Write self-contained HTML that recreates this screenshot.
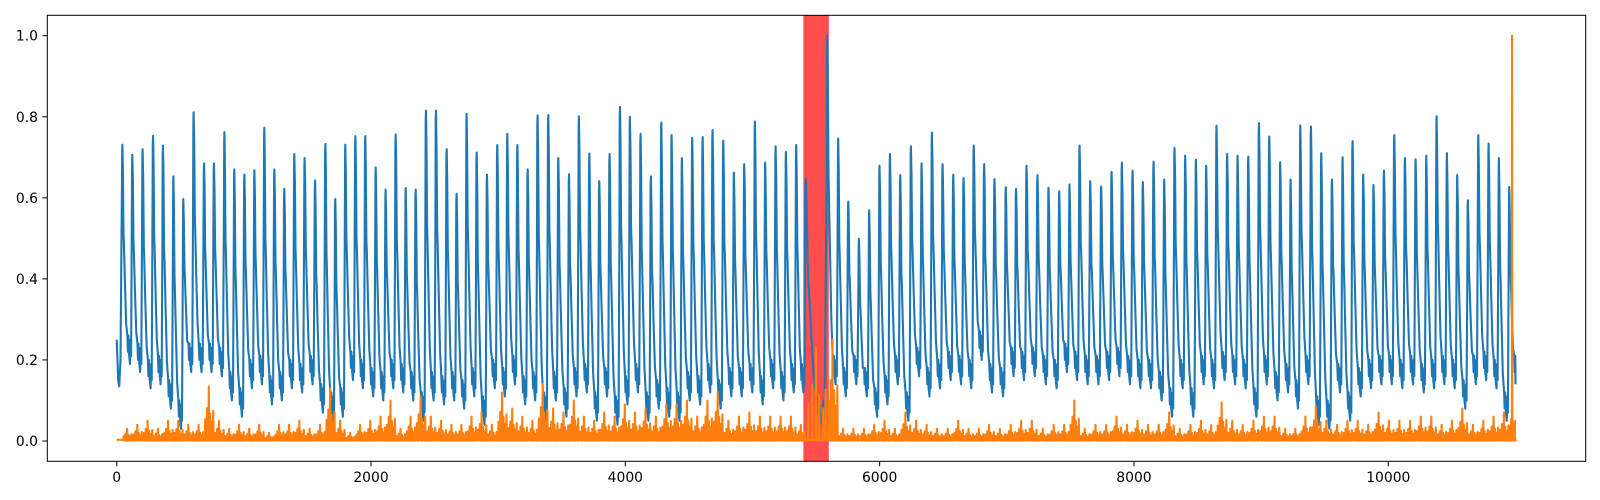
<!DOCTYPE html>
<html><head><meta charset="utf-8"><style>
html,body{margin:0;padding:0;background:#fff;}
svg{display:block;font-family:"DejaVu Sans","Liberation Sans",sans-serif;}
</style></head><body>
<svg id="chart" width="1600" height="500" viewBox="0 0 1600 500" xmlns="http://www.w3.org/2000/svg">
<rect x="47.3" y="15.3" width="1538.4" height="446" fill="#fff"/>
<defs><clipPath id="clip"><rect x="47.3" y="15.3" width="1538.4" height="446"/></clipPath></defs>
<g id="span" clip-path="url(#clip)"></g>
<g id="lines" clip-path="url(#clip)"></g>
<g id="axes"></g>
</svg>
<script>
// ---- data ----
const xTicks = [0, 2000, 4000, 6000, 8000, 10000];
const yTicks = [0.0, 0.2, 0.4, 0.6, 0.8, 1.0];
const highlightSpan = [5400, 5600];
const blueStart = [0, 0.25];
const blueEnd = [11000, 0.14];
const peakX = [45,123,204,286,364,446,524,605,687,765,847,925,1004,1083,1161,1240,1318,1397,1478,1560,1641,1719,1798,1877,1955,2037,2115,2194,2273,2351,2432,2511,2595,2673,2752,2831,2912,2993,3072,3151,3232,3310,
3394,3473,3557,3635,3717,3795,3876,3958,4036,4120,4201,4283,4364,4445,4526,4608,4686,4770,4854,4935,5019,5100,5182,5263,5344,5418,5588,5674,5753,5837,5918,5999,6081,6162,6246,6330,6411,6495,6579,6660,
6740,6822,6903,6992,7073,7155,7241,7328,7412,7493,7572,7656,7742,7824,7905,7989,8070,8154,8238,8319,8403,8487,8568,8649,8733,8815,8899,8983,9064,9150,9232,9308,9392,9473,9557,9641,9719,9803,9884,9966,10047,10131,10215,10299,10380,10461,10542,10626,10708,10789,10870,10951];
const peakY = [0.731,0.706,0.72,0.753,0.729,0.653,0.597,0.811,0.685,0.685,0.762,0.67,0.657,0.668,0.773,0.67,0.622,0.708,0.698,0.643,0.733,0.597,0.731,0.752,0.752,0.675,0.62,0.756,0.624,0.62,0.815,0.815,0.72,0.61,0.807,0.712,0.657,0.73,0.758,0.73,0.67,0.803,
0.804,0.698,0.658,0.801,0.709,0.641,0.708,0.824,0.8,0.758,0.653,0.786,0.755,0.698,0.748,0.75,0.767,0.741,0.662,0.683,0.788,0.687,0.727,0.713,0.73,0.647,1.0,0.746,0.591,0.499,0.569,0.679,0.708,0.656,0.727,0.685,0.761,0.683,0.657,0.649,
0.729,0.683,0.646,0.626,0.622,0.679,0.656,0.625,0.616,0.633,0.729,0.641,0.628,0.664,0.687,0.667,0.639,0.689,0.645,0.723,0.704,0.694,0.679,0.778,0.708,0.704,0.702,0.784,0.751,0.688,0.645,0.779,0.776,0.71,0.645,0.7,0.74,0.657,0.632,0.667,0.755,0.698,0.695,0.704,0.801,0.71,0.656,0.594,0.755,0.734,0.698,0.627];
const troughY = [0.19,0.17,0.13,0.14,0.08,0.03,0.17,0.17,0.17,0.16,0.10,0.06,0.13,0.14,0.09,0.10,0.13,0.12,0.14,0.07,0.05,0.06,0.15,0.13,0.11,0.10,0.13,0.12,0.10,0.05,0.10,0.09,0.10,0.08,0.11,0.04,0.13,0.11,0.14,0.09,0.10,
0.05,
0.10,0.06,0.11,0.12,0.05,0.11,0.04,0.09,0.12,0.05,0.08,0.06,0.05,0.10,0.09,0.12,0.08,0.11,0.11,0.12,0.09,0.13,0.10,0.12,0.12,0.04,0.14,0.11,0.14,0.11,0.06,0.09,0.14,0.05,0.16,0.11,0.13,0.15,0.14,
0.13,
0.2,0.12,0.11,0.16,0.15,0.16,0.14,0.13,0.17,0.15,0.14,0.14,0.15,0.16,0.14,0.13,0.13,0.10,0.06,0.13,0.06,0.14,0.13,0.15,0.14,0.13,0.06,0.14,0.10,0.12,0.08,0.14,0.04,0.03,0.12,0.05,0.11,0.13,0.14,0.14,0.13,0.14,0.12,0.13,0.14,0.13,0.08,0.14,0.15,0.13,0.05];
const orangeY = [0.03,0.04,0.05,0.03,0.05,0.05,0.04,0.04,0.135,0.05,0.03,0.04,0.03,0.04,0.02,0.04,0.04,0.05,0.03,0.04,0.13,0.05,0.02,0.04,0.05,0.06,0.10,0.03,0.06,0.11,0.06,0.05,0.04,0.04,0.06,0.07,0.04,0.12,0.08,0.06,0.05,0.14,
0.08,0.07,0.10,0.06,0.05,0.07,0.06,0.09,0.07,0.08,0.06,0.09,0.09,0.10,0.06,0.10,0.12,0.05,0.06,0.07,0.06,0.06,0.06,0.06,0.04,0.23,0.25,0.03,0.03,0.03,0.04,0.05,0.03,0.07,0.05,0.04,0.03,0.03,0.05,0.03,
0.03,0.04,0.03,0.04,0.05,0.05,0.03,0.04,0.04,0.10,0.03,0.04,0.04,0.06,0.04,0.05,0.04,0.04,0.07,0.03,0.04,0.05,0.04,0.095,0.05,0.04,0.05,0.06,0.06,0.03,0.03,0.06,0.085,0.05,0.04,0.05,0.05,0.04,0.07,0.05,0.05,0.05,0.06,0.06,0.04,0.05,0.08,0.04,0.05,0.06,0.07,0.09];
const orangeBigSpike = [10973, 1.0];

// ---- scales ----
const X0 = 116.7, XK = (1388.3 - 116.7) / 10000;
const Y0 = 441, YK = 405.3;
const sx = v => X0 + v * XK;
const sy = v => Y0 - v * YK;
const NS = "http://www.w3.org/2000/svg";
function mk(tag, attrs, parent) {
  const e = document.createElementNS(NS, tag);
  for (const k in attrs) e.setAttribute(k, attrs[k]);
  parent.appendChild(e);
  return e;
}

// ---- highlight span ----
const spanG = document.getElementById('span');
const span = mk('rect', {x: sx(highlightSpan[0]), y: 15.3, width: sx(highlightSpan[1]) - sx(highlightSpan[0]), height: 446, fill: '#ff0000', 'fill-opacity': 0.7}, spanG);



// ---- blue series ----
const bp = [];
bp.push([blueStart[0], blueStart[1]], [12, 0.15], [20, 0.135], [30, 0.2]);
for (let i = 0; i < peakX.length; i++) {
  const x = peakX[i], h = peakY[i];
  const nx = i + 1 < peakX.length ? peakX[i + 1] : blueEnd[0] + 30;
  const lo = i < troughY.length ? troughY[i] : blueEnd[1];
  const g = nx - x, d = h - lo;
  bp.push([x - 2, h * 0.97]);
  bp.push([x, h]);
  bp.push([x + 0.05 * g, lo + d * 0.88]);
  bp.push([x + 0.11 * g, lo + d * 0.6]);
  bp.push([x + 0.15 * g, lo + d * 0.55]);
  bp.push([x + 0.25 * g, lo + d * 0.38]);
  bp.push([x + 0.38 * g, lo + d * 0.18]);
  bp.push([x + 0.5 * g, lo + 0.07]);
  bp.push([x + 0.55 * g, lo + 0.03]);
  bp.push([x + 0.6 * g, lo + 0.07]);
  if (i + 1 < peakX.length) {
    bp.push([x + 0.68 * g, lo + 0.02]);
    bp.push([x + 0.76 * g, lo]);
    bp.push([x + 0.82 * g, lo + 0.06]);
    bp.push([x + 0.87 * g, lo + 0.02]);
    bp.push([nx - 5, lo + (peakY[i + 1] - lo) * 0.6]);
  } else {
    bp.push([blueEnd[0], blueEnd[1]]);
  }
}
const linesG = document.getElementById('lines');
const blue = mk('polyline', {points: bp.map(p => sx(p[0]).toFixed(1) + ',' + sy(p[1]).toFixed(1)).join(' '), fill: 'none', stroke: '#1f77b4', 'stroke-width': 2.1, 'stroke-linejoin': 'round'}, linesG);



// ---- orange series ----
const op = [[0, 0.003]];
const fr = [[0.12, 0.4], [0.3, 0.6], [0.48, 1.0], [0.62, 0.5], [0.8, 0.35], [0.92, 0.55]];
for (let i = 0; i < orangeY.length; i++) {
  const x = peakX[i], nx = i + 1 < peakX.length ? peakX[i + 1] : 11000;
  const g = nx - x, s = orangeY[i];
  for (const f of fr) {
    const cx = x + f[0] * g;
    if (cx > orangeBigSpike[0] - 6 && cx < orangeBigSpike[0] + 6) continue;
    op.push([cx - 3, 0.003], [cx, s * f[1]], [cx + 3, 0.003]);
    op.push([cx + 6, 0.001]);
  }
}
op.push([orangeBigSpike[0] - 2, 0.003], [orangeBigSpike[0], orangeBigSpike[1]], [orangeBigSpike[0] + 2, 0.003]);
op.sort((a, b) => a[0] - b[0]);
op.push([11000, 0.003]);
const orange = mk('polyline', {points: op.map(p => sx(p[0]).toFixed(1) + ',' + sy(p[1]).toFixed(1)).join(' '), fill: 'none', stroke: '#ff7f0e', 'stroke-width': 2.1, 'stroke-linejoin': 'round'}, linesG);



// ---- axes ----
const axG = document.getElementById('axes');
const frame = mk('rect', {x: 47.3, y: 15.3, width: 1538.4, height: 446, fill: 'none', stroke: '#000', 'stroke-width': 1}, axG);


for (const t of xTicks) {
  const tk = mk('line', {x1: sx(t), x2: sx(t), y1: 461.3, y2: 466.3, stroke: '#000', 'stroke-width': 1}, axG);
  
  
  const lb = mk('text', {x: sx(t), y: 482, 'text-anchor': 'middle', 'font-size': 13.9, fill: '#000'}, axG);
  lb.textContent = String(t);
  
  
}
for (const t of yTicks) {
  const tk = mk('line', {x1: 42.3, x2: 47.3, y1: sy(t), y2: sy(t), stroke: '#000', 'stroke-width': 1}, axG);
  
  
  const lb = mk('text', {x: 38, y: sy(t) + 5, 'text-anchor': 'end', 'font-size': 13.9, fill: '#000'}, axG);
  lb.textContent = t.toFixed(1);
  
  
}
</script>
</body></html>
